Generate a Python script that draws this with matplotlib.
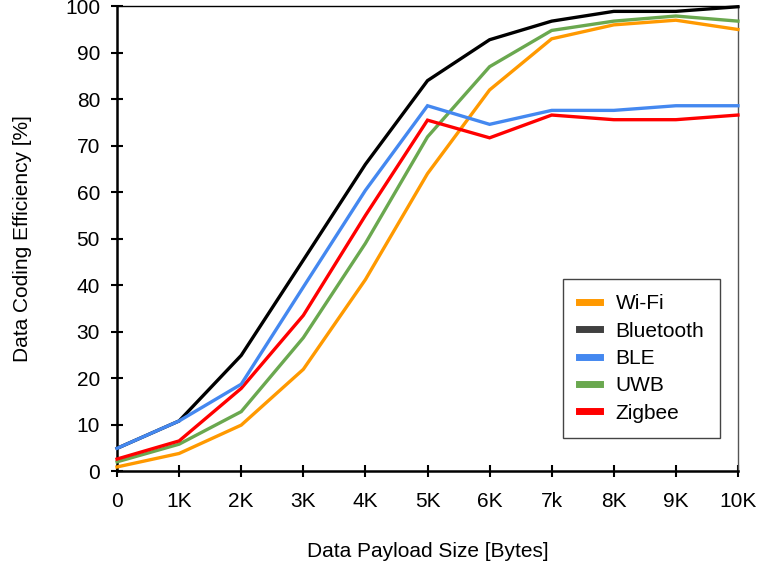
import matplotlib
matplotlib.use("Agg")
import matplotlib.pyplot as plt
from matplotlib.lines import Line2D

plt.rcParams["font.family"] = ["Liberation Sans", "DejaVu Sans"]

# ── data ──────────────────────────────────────────────────────────────────────
x_labels = ["0", "1K", "2K", "3K", "4K", "5K", "6K", "7k", "8K", "9K", "10K"]
payload_k = list(range(11))

wifi      = [0.9, 3.8, 9.9, 21.9, 41.2, 64.0, 82.0, 93.0, 96.0, 97.0, 95.0]
bluetooth = [4.9, 10.8, 24.9, 45.4, 66.0, 84.0, 92.8, 96.8, 98.9, 98.9, 99.9]
ble       = [4.9, 10.8, 18.7, 39.6, 60.4, 78.6, 74.6, 77.6, 77.6, 78.6, 78.6]
uwb       = [2.0, 5.8, 12.8, 28.7, 49.0, 71.9, 87.0, 94.8, 96.8, 97.9, 96.8]
zigbee    = [2.6, 6.5, 17.8, 33.5, 55.0, 75.5, 71.7, 76.6, 75.6, 75.6, 76.6]

SERIES = [
    ("Wi-Fi",     wifi,      "#ff9900", "#ff9900"),
    ("Bluetooth", bluetooth, "#000000", "#404040"),
    ("BLE",       ble,       "#4488f0", "#4488f0"),
    ("UWB",       uwb,       "#6aa84f", "#6aa84f"),
    ("Zigbee",    zigbee,    "#ff0000", "#ff0000"),
]

FS = 15

fig = plt.figure(figsize=(7.6, 5.69), dpi=100)
ax = fig.add_axes([0.154, 0.172, 0.817, 0.817])

# draw order: orange/green underneath, black and blue on top
for name, vals, color, _ in [SERIES[0], SERIES[3], SERIES[4], SERIES[1], SERIES[2]]:
    ax.plot(payload_k, vals, color=color, lw=2.4, solid_joinstyle="miter",
            clip_on=False, zorder=3)

ax.set_xlim(0, 10)
ax.set_ylim(0, 100)
ax.set_xticks(payload_k)
ax.set_xticklabels(x_labels)
ax.set_yticks(range(0, 101, 10))

ax.tick_params(axis="both", direction="inout", length=8.5, width=1.5,
               labelsize=FS, color="black")
ax.tick_params(axis="x", pad=11)
ax.tick_params(axis="y", pad=8)

for side in ("left", "bottom"):
    ax.spines[side].set_linewidth(1.8)
    ax.spines[side].set_color("black")
ax.spines["top"].set_linewidth(1.0)
ax.spines["top"].set_color("black")
ax.spines["right"].set_linewidth(1.0)
ax.spines["right"].set_color("#555555")

ax.set_xlabel("Data Payload Size [Bytes]", fontsize=FS, labelpad=22)
ax.set_ylabel("Data Coding Efficiency [%]", fontsize=FS, labelpad=24)

handles = [Line2D([0], [0], color=lc, lw=5) for _, _, _, lc in SERIES]
leg = ax.legend(handles, [s[0] for s in SERIES], loc="lower right",
                bbox_to_anchor=(0.971, 0.071), borderaxespad=0, fontsize=FS,
                fancybox=False, framealpha=1, edgecolor="#444444",
                handlelength=1.0, handletextpad=0.75, labelspacing=0.4,
                borderpad=0.75)
leg.get_frame().set_linewidth(1.0)

fig.savefig("out.png", dpi=100)
